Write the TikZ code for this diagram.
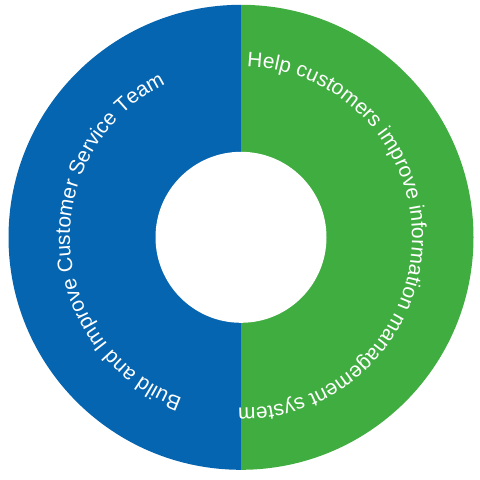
\documentclass[tikz,border=0pt]{standalone}
\usepackage{fontspec}
\setmainfont{Liberation Sans}
\usetikzlibrary{decorations.text}
\definecolor{ringblue}{HTML}{0665B0}
\definecolor{ringgreen}{HTML}{40AD40}
\newcommand\ringfont{\fontsize{20.9}{24}\selectfont}
\tikzset{
  ringtext/.style={decorate, decoration={text along path, text={|\ringfont|#1}, text color=white}}
}
\begin{document}
\begin{tikzpicture}[x=1pt,y=1pt]
\useasboundingbox (0,0) rectangle (480,-480);
\coordinate (c) at (241,-237.3);
\fill[ringblue] ([shift={(90:232.5)}]c) arc (90:270:232.5) -- cycle;
\fill[ringgreen] ([shift={(90:232.5)}]c) arc (90:-90:232.5) -- cycle;
\fill[white] (c) circle (85.5);
\path[ringtext={Help customers improve information management system}] ([shift={(88:171)}]c) arc (88:-100:171);
\path[ringtext={Build and Improve Customer Service Team}] ([shift={(250:171)}]c) arc (250:95:171);
\end{tikzpicture}
\end{document}
